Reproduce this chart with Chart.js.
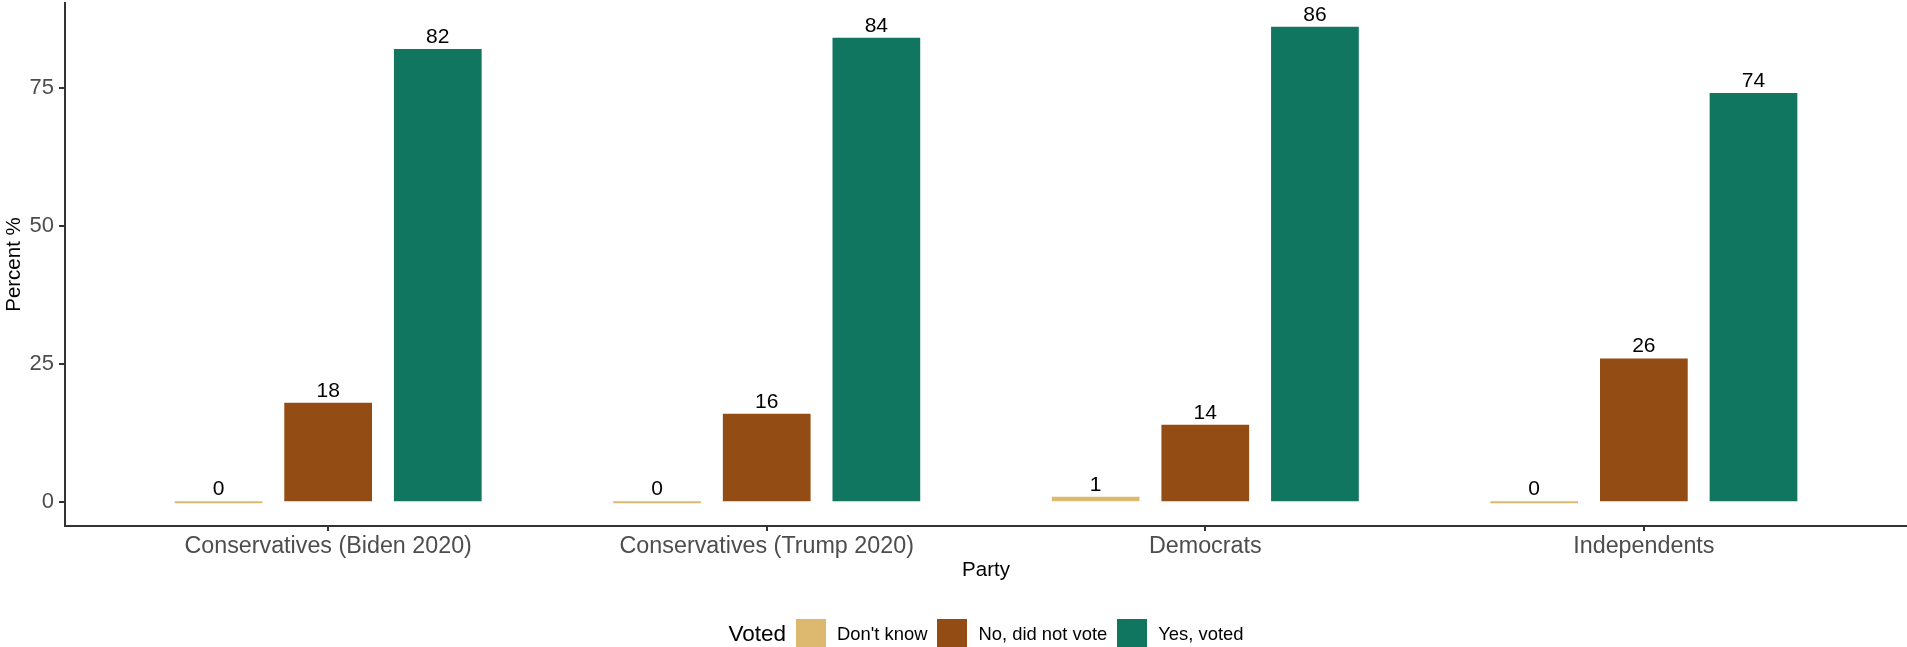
<!DOCTYPE html>
<html>
<head>
<meta charset="utf-8">
<script src="https://cdn.jsdelivr.net/npm/chart.js@4.4.1/dist/chart.umd.min.js"></script>
<style>
  html, body { margin: 0; padding: 0; background: #fff; }
  #wrap { position: relative; width: 1907px; height: 647px; overflow: hidden; }
  #c { display: block; }
  #legend {
    position: absolute; left: 65px; width: 1842px; top: 619px; height: 30px;
    display: flex; justify-content: center; align-items: center;
    font-family: "Liberation Sans", Arial, sans-serif; color: #000;
  }
  #legend .ttl { font-size: 22.5px; margin-right: 10px; }
  #legend .box { width: 30px; height: 30px; margin-right: 11px; }
  #legend .lab { font-size: 18.4px; margin-right: 10px; }
  #legend .lab:last-child { margin-right: 0; }
</style>
</head>
<body>
<div id="wrap">
  <canvas id="c" width="1907" height="647"></canvas>
  <div id="legend"></div>
</div>
<script>
const categories = ["Conservatives (Biden 2020)", "Conservatives (Trump 2020)", "Democrats", "Independents"];
const seriesNames = ["Don't know", "No, did not vote", "Yes, voted"];
const dontKnow = [0, 0, 1, 0];
const didNotVote = [18, 16, 14, 26];
const yesVoted = [82, 84, 86, 74];
const yTicks = [0, 25, 50, 75];
const seriesColors = ["#DCB96E", "#934D14", "#107660"];
const legendTitle = "Voted";

const FONT = '"Liberation Sans", Arial, sans-serif';
Chart.defaults.font.family = FONT;

const seriesValues = [dontKnow, didNotVote, yesVoted];

const valueLabels = {
  id: 'valueLabels',
  afterDatasetsDraw(chart) {
    const ctx = chart.ctx;
    ctx.save();
    ctx.font = '21px ' + FONT;
    ctx.fillStyle = '#000';
    ctx.textAlign = 'center';
    ctx.textBaseline = 'alphabetic';
    chart.data.datasets.forEach((ds, i) => {
      chart.getDatasetMeta(i).data.forEach((bar, j) => {
        const top = Math.min(bar.y, bar.base);
        ctx.fillText(String(ds.data[j]), bar.x, top - 6);
      });
    });
    ctx.restore();
  }
};

function noPad(s) { s.paddingTop = 0; s.paddingBottom = 0; s.paddingLeft = 0; s.paddingRight = 0; }

new Chart(document.getElementById('c'), {
  type: 'bar',
  data: {
    labels: categories,
    datasets: seriesNames.map((name, i) => ({
      label: name,
      data: seriesValues[i],
      backgroundColor: seriesColors[i],
      borderWidth: 0,
      minBarLength: 2,
      categoryPercentage: 0.75,
      barPercentage: 0.8
    }))
  },
  options: {
    responsive: false,
    animation: false,
    layout: { padding: { top: 3, left: 0, right: 0, bottom: 0 } },
    plugins: { legend: { display: false }, tooltip: { enabled: false } },
    scales: {
      x: {
        type: 'category',
        offset: true,
        afterBuildTicks: s => { s._startValue = -0.6; s._valueRange = 4.2; },
        afterFit: s => { s.height = 121; noPad(s); },
        grid: { display: true, offset: false, drawOnChartArea: false, drawTicks: true, tickLength: 5, color: '#333', lineWidth: 2 },
        border: { display: true, color: '#333', width: 2 },
        ticks: { font: { size: 23.3 }, color: '#4d4d4d', padding: 2, maxRotation: 0, autoSkip: false },
        title: { display: true, text: 'Party', color: '#000', font: { size: 20.5 }, padding: { top: 0, bottom: 64 } }
      },
      y: {
        min: -4.3,
        max: 90.3,
        afterBuildTicks: s => { s.ticks = yTicks.map(v => ({ value: v })); },
        afterFit: s => { s.width = 65; noPad(s); },
        grid: { drawOnChartArea: false, drawTicks: true, tickLength: 6, color: '#333', lineWidth: 2 },
        border: { display: true, color: '#333', width: 2 },
        ticks: { font: { size: 22 }, color: '#4d4d4d', padding: 5 },
        title: { display: true, text: 'Percent %', color: '#000', font: { size: 20.5 }, padding: { top: 2, bottom: 0 } }
      }
    }
  },
  plugins: [valueLabels]
});

const leg = document.getElementById('legend');
const t = document.createElement('span');
t.className = 'ttl'; t.textContent = legendTitle; leg.appendChild(t);
seriesNames.forEach((name, i) => {
  const b = document.createElement('span');
  b.className = 'box'; b.style.background = seriesColors[i]; leg.appendChild(b);
  const l = document.createElement('span');
  l.className = 'lab'; l.textContent = name; leg.appendChild(l);
});
</script>
</body>
</html>
